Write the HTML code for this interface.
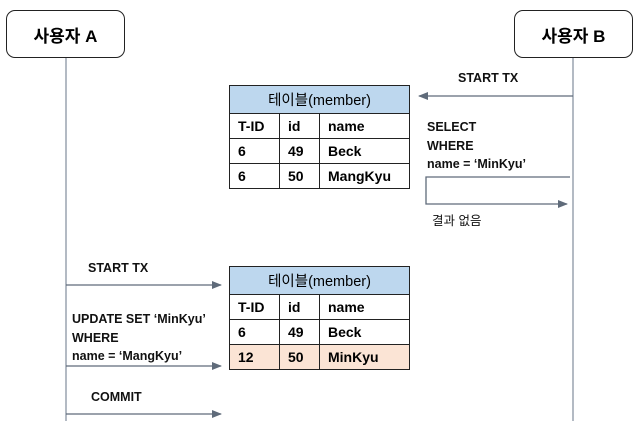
<!DOCTYPE html>
<html><head><meta charset="utf-8"><style>
body{margin:0;width:639px;height:421px;background:#fff;position:relative;overflow:hidden;font-family:"Liberation Sans","Noto Sans CJK KR",sans-serif;}
.box{position:absolute;border:1.5px solid #222;border-radius:9px;background:#fff;font-size:17px;font-weight:bold;display:flex;align-items:center;justify-content:center;box-sizing:border-box;}
.t{position:absolute;font-size:12.5px;font-weight:bold;color:#111;line-height:18.5px;white-space:nowrap;}
table{position:absolute;border-collapse:collapse;font-size:14px;font-weight:bold;}
td{border:1.5px solid #222;padding:0 0 0 8px;height:24px;}
th{border:1.5px solid #222;background:#bdd7ee;font-weight:normal;font-size:14.5px;height:25px;}
.pk td{background:#fbe4d5;}
</style></head><body>
<svg width="639" height="421" style="position:absolute;left:0;top:0">
<defs><marker id="a" markerWidth="10" markerHeight="8" refX="9" refY="4" orient="auto" markerUnits="userSpaceOnUse"><path d="M0,0 L10,4 L0,8 z" fill="#5f6b7a"/></marker></defs>
<g stroke="#8a94a3" stroke-width="1.3" fill="none">
<line x1="66" y1="57" x2="66" y2="421"/>
<line x1="573" y1="57" x2="573" y2="421"/>
</g>
<g stroke="#5f6b7a" stroke-width="1.3" fill="none">
<line x1="573" y1="96" x2="419" y2="96" marker-end="url(#a)"/>
<polyline points="570,177 426,177 426,204 567,204" marker-end="url(#a)"/>
<line x1="66" y1="285" x2="221" y2="285" marker-end="url(#a)"/>
<line x1="66" y1="366" x2="221" y2="366" marker-end="url(#a)"/>
<line x1="66" y1="414" x2="221" y2="414" marker-end="url(#a)"/>
</g></svg>
<div class="box" style="left:6px;top:10px;width:119px;height:48px">사용자 A</div>
<div class="box" style="left:514px;top:10px;width:119px;height:48px">사용자 B</div>
<div class="t" style="left:458px;top:69px">START TX</div>
<div class="t" style="left:427px;top:118px">SELECT<br>WHERE<br>name = ‘MinKyu’</div>
<div class="t" style="left:432px;top:212px;font-weight:normal">결과 없음</div>
<div class="t" style="left:88px;top:259px">START TX</div>
<div class="t" style="left:72px;top:310px">UPDATE SET ‘MinKyu’<br>WHERE<br>name = ‘MangKyu’</div>
<div class="t" style="left:91px;top:388px">COMMIT</div>
<table style="left:229px;top:85px;width:181px">
<tr><th colspan="3">테이블(member)</th></tr>
<tr><td style="width:41px">T-ID</td><td style="width:31px">id</td><td>name</td></tr>
<tr><td>6</td><td>49</td><td>Beck</td></tr>
<tr><td>6</td><td>50</td><td>MangKyu</td></tr>
</table>
<table style="left:229px;top:266px;width:181px">
<tr><th colspan="3">테이블(member)</th></tr>
<tr><td style="width:41px">T-ID</td><td style="width:31px">id</td><td>name</td></tr>
<tr><td>6</td><td>49</td><td>Beck</td></tr>
<tr class="pk"><td>12</td><td>50</td><td>MinKyu</td></tr>
</table>
</body></html>
